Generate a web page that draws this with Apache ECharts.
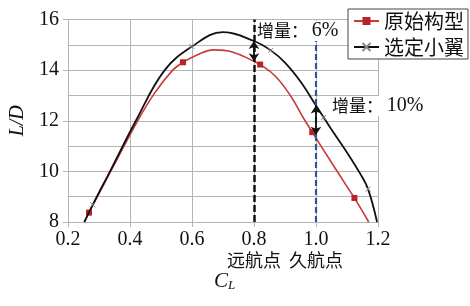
<!DOCTYPE html>
<html>
<head>
<meta charset="utf-8">
<script src="https://cdn.jsdelivr.net/npm/echarts@6/dist/echarts.min.js"></script>
<style>
  html, body { margin: 0; padding: 0; background: #fff; }
  #chart { width: 470px; height: 306px; }
</style>
</head>
<body>
<div id="chart"></div>
<script>
// 原始构型 (red): CL and L/D
const redCL = [0.253, 0.268, 0.34, 0.425, 0.48, 0.538, 0.571, 0.62, 0.67, 0.73, 0.8, 0.82, 0.87, 0.92, 0.96, 0.988, 1.05, 1.1, 1.124, 1.17];
const redLD = [8.0, 8.37, 10.05, 12.0, 13.1, 14.0, 14.31, 14.62, 14.8, 14.72, 14.35, 14.22, 13.75, 12.95, 12.1, 11.55, 10.35, 9.4, 8.95, 8.0];
const redMarks = [0.268, 0.571, 0.82, 0.988, 1.124];

// 选定小翼 (black)
const blackCL = [0.253, 0.28, 0.34, 0.42, 0.511, 0.6, 0.7, 0.8, 0.854, 0.9, 0.95, 1.0, 1.025, 1.05, 1.1, 1.143, 1.168, 1.197];
const blackLD = [8.0, 8.68, 10.1, 12.02, 13.98, 14.93, 15.5, 15.15, 14.78, 14.3, 13.55, 12.6, 12.13, 11.65, 10.75, 9.9, 9.3, 8.0];
const blackMarks = [0.28, 0.6, 0.854, 1.025, 1.168];

// named points under the x axis
const pointCL = [0.8, 1.0];
const pointNames = ['远航点', '久航点'];

// increments between the two curves
const incCL = [0.8, 1.0];
const incTop = [15.15, 12.6];
const incBottom = [14.35, 11.45];
const incText = ['6%', '10%'];

const seriesNames = ['原始构型', '选定小翼'];

function buildData(xs, ys, marks) {
  return xs.map((x, i) => ({
    value: [x, ys[i]],
    symbol: marks.indexOf(x) >= 0 ? undefined : 'none'
  }));
}

const chart = echarts.init(document.getElementById('chart'));

const serif = '"Liberation Serif", "DejaVu Serif", serif';
const cjk = '"Noto Sans CJK SC", sans-serif';
const gridColor = '#b4b4b4';

const option = {
  animation: false,
  backgroundColor: '#fff',
  grid: { left: 67, right: 92, top: 19.5, bottom: 84 },
  legend: {
    orient: 'vertical',
    left: 348,
    top: 9,
    padding: [1, 4, 1, 5],
    itemGap: 4,
    itemWidth: 25,
    itemHeight: 10,
    backgroundColor: '#fff',
    borderColor: '#444',
    borderWidth: 1,
    data: seriesNames,
    textStyle: { fontFamily: cjk, fontSize: 20, color: '#111', lineHeight: 22 }
  },
  xAxis: {
    type: 'value',
    min: 0.2,
    max: 1.2,
    interval: 0.2,
    axisLine: { show: true, lineStyle: { color: gridColor } },
    axisTick: { show: true, length: 5, lineStyle: { color: gridColor } },
    splitLine: { show: true, lineStyle: { color: gridColor, width: 1 } },
    axisLabel: {
      margin: 7,
      color: '#111',
      fontFamily: serif,
      fontSize: 20,
      lineHeight: 21,
      formatter: function (v) {
        const k = pointCL.findIndex(p => Math.abs(p - v) < 1e-6);
        const s = v.toFixed(1);
        return k >= 0 ? s + '\n{c|' + pointNames[k] + '}' : s;
      },
      rich: {
        c: { fontFamily: cjk, fontSize: 18, color: '#111', lineHeight: 21 }
      }
    }
  },
  yAxis: {
    type: 'value',
    min: 8,
    max: 16,
    interval: 2,
    name: 'L/D',
    nameLocation: 'middle',
    nameRotate: 90,
    nameGap: 38,
    nameTextStyle: { fontFamily: serif, fontStyle: 'italic', fontSize: 20, color: '#111' },
    axisLine: { show: true, lineStyle: { color: gridColor } },
    axisTick: { show: true, length: 5, lineStyle: { color: gridColor } },
    minorTick: { show: false, splitNumber: 2 },
    minorSplitLine: { show: true, lineStyle: { color: gridColor, width: 1 } },
    splitLine: { show: true, lineStyle: { color: gridColor, width: 1 } },
    axisLabel: { margin: 9, color: '#111', fontFamily: serif, fontSize: 20 }
  },
  series: [
    {
      name: seriesNames[0],
      type: 'line',
      smooth: 0.4,
      symbol: 'rect',
      symbolSize: 6,
      z: 3,
      lineStyle: { color: '#c8383c', width: 1.6 },
      itemStyle: { color: '#b82228' },
      data: buildData(redCL, redLD, redMarks)
    },
    {
      name: seriesNames[1],
      type: 'line',
      smooth: 0.4,
      symbol: 'path://M0,0L10,10M10,0L0,10',
      symbolSize: 5,
      z: 4,
      lineStyle: { color: '#111', width: 1.8 },
      itemStyle: { color: 'none', borderColor: '#888', borderWidth: 1 },
      data: buildData(blackCL, blackLD, blackMarks),
      markLine: {
        silent: true,
        symbol: ['none', 'none'],
        label: { show: false },
        data: [
          { xAxis: pointCL[0], lineStyle: { color: '#111', width: 2.5, type: [7, 3] } },
          [
            { coord: [pointCL[1], 8], lineStyle: { color: '#2a5597', width: 2.2, type: [6, 3] } },
            { coord: [pointCL[1], 15.2] }
          ],
          [
            { coord: [incCL[0], incTop[0]], symbol: 'arrow', lineStyle: { color: '#111', width: 1.8, type: 'solid' } },
            { coord: [incCL[0], incBottom[0]], symbol: 'arrow' }
          ],
          [
            { coord: [incCL[1], incTop[1]], symbol: 'arrow', lineStyle: { color: '#111', width: 1.8, type: 'solid' } },
            { coord: [incCL[1], incBottom[1]], symbol: 'arrow' }
          ]
        ],
        symbolSize: 8
      }
    }
  ],
  graphic: [
    {
      type: 'text', left: 257, top: 21, z: 10,
      style: {
        text: '增量： {n|' + incText[0] + '}',
        font: '17px ' + cjk,
        fill: '#111',
        backgroundColor: '#fff',
        rich: { n: { fontFamily: serif, fontSize: 20, fill: '#111' } }
      }
    },
    {
      type: 'text', left: 332, top: 96, z: 10,
      style: {
        text: '增量： {n|' + incText[1] + '}',
        font: '17px ' + cjk,
        fill: '#111',
        backgroundColor: '#fff',
        rich: { n: { fontFamily: serif, fontSize: 20, fill: '#111' } }
      }
    },
    {
      type: 'text', left: 214, top: 271, z: 10,
      style: {
        text: '{c|C}{l|L}',
        fill: '#111',
        rich: {
          c: { fontFamily: serif, fontStyle: 'italic', fontSize: 21, fill: '#111' },
          l: { fontFamily: serif, fontStyle: 'italic', fontSize: 13, fill: '#111', padding: [8, 0, 0, 0] }
        }
      }
    }
  ]
};

chart.setOption(option);
</script>
</body>
</html>
